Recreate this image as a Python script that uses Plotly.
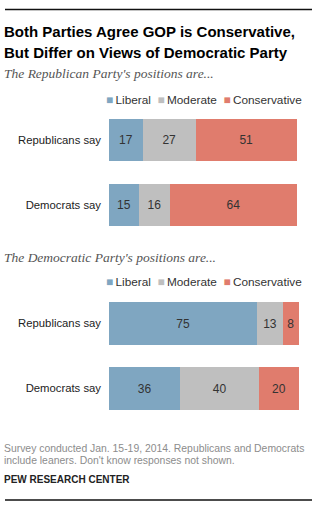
import plotly.graph_objects as go

# Survey results (percent)
groups = ["Republicans say", "Democrats say"]
categories = ["Liberal", "Moderate", "Conservative"]
colors = ["#7FA6C1", "#BFBFBF", "#E07C6D"]

gop_views = {
    "Liberal": [17, 15],
    "Moderate": [27, 16],
    "Conservative": [51, 64],
}
dem_views = {
    "Liberal": [75, 36],
    "Moderate": [13, 40],
    "Conservative": [8, 20],
}

W, H = 325, 517
LABEL_FONT = "Liberation Sans, Arial, sans-serif"


def py(px):
    """Convert a pixel offset from the top into paper y."""
    return 1 - px / H


def px_x(px):
    return px / W


fig = go.Figure()

panels = [
    (gop_views, "x", "y"),
    (dem_views, "x2", "y2"),
]

for data, xa, ya in panels:
    for cat, col in zip(categories, colors):
        vals = data[cat]
        fig.add_trace(go.Bar(
            x=vals, y=groups, orientation="h",
            xaxis=xa, yaxis=ya,
            marker=dict(color=col, line=dict(width=0)),
            width=0.66,
            text=[str(v) for v in vals],
            textposition="inside",
            insidetextanchor="middle",
            textangle=0,
            textfont=dict(family=LABEL_FONT, size=12, color="#333333"),
            cliponaxis=False,
            showlegend=False,
            hoverinfo="skip",
        ))

x_dom = [px_x(109), px_x(109 + 197.5)]
axis_common = dict(showgrid=False, zeroline=False, showline=False,
                   fixedrange=True)
tick_font = dict(family=LABEL_FONT, size=11.3, color="#222222")

fig.update_layout(
    width=W, height=H,
    margin=dict(l=0, r=0, t=0, b=0),
    paper_bgcolor="white", plot_bgcolor="white",
    barmode="stack",
    xaxis=dict(domain=x_dom, range=[0, 100], showticklabels=False, **axis_common),
    xaxis2=dict(domain=x_dom, range=[0, 100], showticklabels=False,
                anchor="y2", **axis_common),
    yaxis=dict(domain=[py(237.5), py(107.5)], range=[1.5, -0.5],
               ticks="", ticklabelstandoff=7, tickfont=tick_font,
               **axis_common),
    yaxis2=dict(domain=[py(421), py(291)], range=[1.5, -0.5], anchor="x2",
                ticks="", ticklabelstandoff=7, tickfont=tick_font,
                **axis_common),
)

annotations = []


def text(x, y, s, size, color, family=LABEL_FONT, anchor="left"):
    annotations.append(dict(
        x=px_x(x), y=py(y), xref="paper", yref="paper",
        text=s, showarrow=False, xanchor=anchor, yanchor="middle",
        align="left",
        font=dict(family=family, size=size, color=color),
    ))


text(2, 31, "<b>Both Parties Agree GOP is Conservative,</b>", 15, "#000000")
text(2, 53, "<b>But Differ on Views of Democratic Party</b>", 15, "#000000")

serif = "Liberation Serif, Georgia, serif"
text(2, 74, "<i>The Republican Party's positions are...</i>", 13.5, "#555555", serif)
text(2, 257, "<i>The Democratic Party's positions are...</i>", 13.5, "#555555", serif)

legend_html = "&nbsp;&nbsp;".join(
    f"<span style='color:{c}'>■</span>&#8201;{name}" for name, c in zip(categories, colors)
)
text(304, 100, legend_html, 11.8, "#333333", anchor="right")
text(304, 282, legend_html, 11.8, "#333333", anchor="right")

text(2, 448, "Survey conducted Jan. 15-19, 2014. Republicans and Democrats",
     10.4, "#8C8C8C")
text(2, 460, "include leaners. Don't know responses not shown.", 10.4, "#8C8C8C")
text(2, 479, "<b>PEW RESEARCH CENTER</b>", 10, "#222222")

fig.update_layout(annotations=annotations)

# Rules at top and bottom
for yy in (9.5, 500):
    fig.add_shape(type="line", xref="paper", yref="paper",
                  x0=px_x(5), x1=px_x(312), y0=py(yy), y1=py(yy),
                  line=dict(color="#111111", width=1.5))

fig.write_html("out.html")
